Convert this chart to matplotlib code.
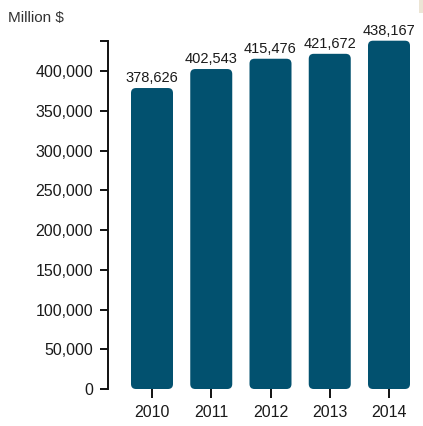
import matplotlib
matplotlib.use('Agg')
import matplotlib.pyplot as plt
from matplotlib.patches import FancyBboxPatch, Rectangle

# annual totals, million $
years = ['2010', '2011', '2012', '2013', '2014']
values = [378626, 402543, 415476, 421672, 438167]
yticks = [0, 50000, 100000, 150000, 200000, 250000, 300000, 350000, 400000]

BAR_COLOR = '#02516f'
TEXT_COLOR = '#1a1a1a'
W, H = 423, 426

plt.rcParams['font.family'] = ['Liberation Sans', 'DejaVu Sans']

fig = plt.figure(figsize=(W / 100, H / 100), dpi=100)
fig.patch.set_facecolor('white')

# axes box in pixel terms: left spine at x=108, zero line at y=389
left, right, top, bottom = 108, 418, 40.7, 389
ax = fig.add_axes([left / W, (H - bottom) / H, (right - left) / W, (bottom - top) / H])

step = 59.25
x0 = -(152 - left) / step
x1 = 4 + (right - 389) / step
ymax = max(values)
ax.set_xlim(x0, x1)
ax.set_ylim(0, ymax)

# data units per pixel, used to keep the corner radius round
ux = (x1 - x0) / (right - left)
uy = ymax / (bottom - top)
radius = 5 * ux
bar_w = 42 / step

for i, v in enumerate(values):
    box = FancyBboxPatch((i - bar_w / 2, 0), bar_w, v,
                         boxstyle='round,pad=0,rounding_size=%f' % radius,
                         mutation_aspect=uy / ux,
                         facecolor=BAR_COLOR, edgecolor='none', clip_on=False)
    ax.add_patch(box)
    ax.annotate('{:,}'.format(v), (i, v), xytext=(0, 6 * 0.72), textcoords='offset points',
                ha='center', va='baseline', fontsize=10.5, color=TEXT_COLOR)

for s in ['top', 'right', 'bottom']:
    ax.spines[s].set_visible(False)
ax.spines['left'].set_linewidth(1.4)
ax.spines['left'].set_color('#111111')

ax.set_yticks(yticks)
ax.set_yticklabels(['{:,}'.format(t) for t in yticks])
ax.tick_params(axis='y', length=8 * 0.72, width=1.4, color='#111111', pad=5,
               labelsize=11.5, labelcolor=TEXT_COLOR)
ax.set_xticks(range(len(years)))
ax.set_xticklabels(years)
ax.tick_params(axis='x', length=9 * 0.72, width=1.4, color='#111111', pad=5,
               labelsize=11.5, labelcolor=TEXT_COLOR)

# outer tick at the top end of the axis
ax.plot([-8 * ux + x0, x0], [ymax, ymax], color='#111111', lw=1.4,
        clip_on=False, solid_capstyle='butt')

fig.text(8 / W, 1 - 18 / H, 'Million $', ha='left', va='center',
         fontsize=11, color='#333333')

fig.patches.append(Rectangle((419 / W, 1 - 13 / H), 4 / W, 13 / H,
                             transform=fig.transFigure, facecolor='#ece5d5',
                             edgecolor='none'))

fig.savefig('out.png', dpi=100, facecolor='white')
